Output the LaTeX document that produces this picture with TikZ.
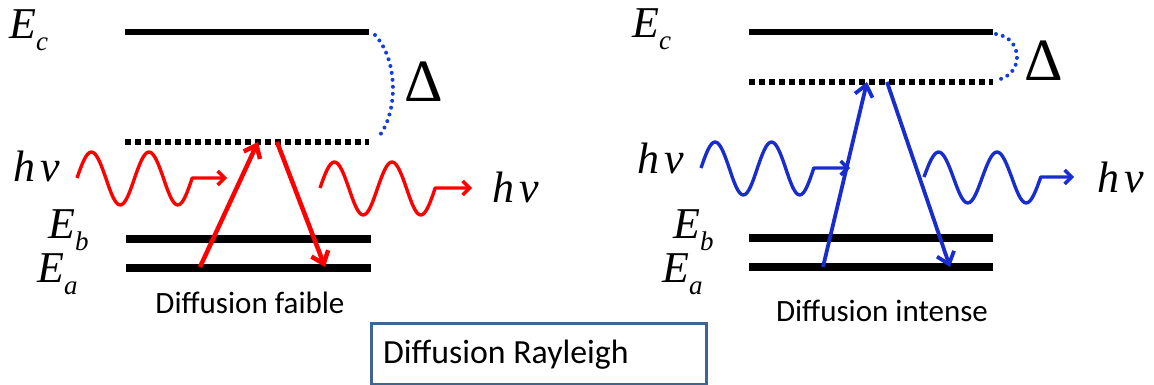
\documentclass[tikz,border=0pt]{standalone}
\usepackage{fontspec}
\setmainfont{Liberation Serif}
\newfontfamily\tms{Liberation Serif}
\newfontfamily\calib{Carlito}
\usetikzlibrary{arrows.meta}
\definecolor{myred}{RGB}{255,0,0}
\definecolor{myblue}{RGB}{25,45,205}
\definecolor{arcblue}{RGB}{20,60,230}
\definecolor{boxblue}{RGB}{65,100,145}
\newcommand\lvlab[2]{#1\raisebox{-12pt}{\fontsize{27}{27}\selectfont #2}}
\begin{document}
\begin{tikzpicture}[x=1pt,y=-1pt,
 lvl/.style={line width=5.5pt},
 lvlb/.style={line width=7.5pt},
 virt/.style={line width=6pt,dash pattern=on 6pt off 4pt},
 gap/.style={line width=4pt,dash pattern=on 0pt off 7pt,line cap=round},
 wave/.style={line width=3.4pt,line join=round,-{Straight Barb[length=7pt,width=14pt]}},
 trans/.style={line width=4.5pt,-{Straight Barb[length=11pt,width=18pt]}},
 lab/.style={inner sep=0pt,anchor=base west,font=\tms\fontsize{44}{44}\selectfont\itshape},
 dlt/.style={inner sep=0pt,anchor=base west,font=\tms\fontsize{60}{60}\selectfont\upshape},
 capt/.style={inner sep=0pt,anchor=base,font=\calib\fontsize{31}{31}\selectfont}]
\useasboundingbox (0,0) rectangle (1154,385);

% ---------- left diagram ----------
\coordinate (Lc1) at (125,32);  \coordinate (Lc2) at (369,32);
\coordinate (Lv1) at (125,142); \coordinate (Lv2) at (369,142);
\coordinate (Lb1) at (126,239); \coordinate (Lb2) at (371,239);
\coordinate (La1) at (126,268); \coordinate (La2) at (371,268);
\draw[lvl] (Lc1) -- (Lc2);
\draw[virt] (Lv1) -- (Lv2);
\draw[lvlb] (Lb1) -- (Lb2);
\draw[lvlb] (La1) -- (La2);
\coordinate (Lg1) at (375,35); \coordinate (Lg2) at (380,135);
\draw[gap,arcblue] (Lg1) .. controls (398,60) and (398,110) .. (Lg2);
\node[dlt] (LD) at (404,102) {Δ};

\node[lab] (LEc) at (9,39) {\lvlab{E}{c}};
\node[lab] (LEb) at (48,238) {\lvlab{E}{b}};
\node[lab] (LEa) at (37,282) {\lvlab{E}{a}};
\node[lab] (Lh1) at (13,182) {h\hspace{5pt}ν};
\node[lab] (Lh2) at (492,202) {h\hspace{5pt}ν};

\coordinate (Lw1e) at (227,178);
\draw[wave,myred] (77,178) sin (91.4,152) cos (105.8,178) sin (120.2,205) cos (134.6,178)
  sin (149,152) cos (163.4,178) sin (177.8,205) cos (192.2,178) -- (Lw1e);
\coordinate (Lw2e) at (472,188);
\draw[wave,myred] (320,188) sin (334.4,162) cos (348.8,188) sin (363.2,215) cos (377.6,188)
  sin (392,162) cos (406.4,188) sin (420.8,215) cos (435.2,188) -- (Lw2e);

\coordinate (Lu1) at (200,267); \coordinate (Lu2) at (258,142);
\coordinate (Ld1) at (277,142); \coordinate (Ld2) at (325,267);
\draw[trans,myred] (Lu1) -- (Lu2);
\draw[trans,myred] (Ld1) -- (Ld2);
\node[capt] (Lcap) at (250,313) {Diffusion faible};

% ---------- right diagram ----------
\coordinate (Rc1) at (749,32);  \coordinate (Rc2) at (993,32);
\coordinate (Rv1) at (749,82);  \coordinate (Rv2) at (993,82);
\coordinate (Rb1) at (749,238); \coordinate (Rb2) at (993,238);
\coordinate (Ra1) at (749,267); \coordinate (Ra2) at (993,267);
\draw[lvl] (Rc1) -- (Rc2);
\draw[virt] (Rv1) -- (Rv2);
\draw[lvlb] (Rb1) -- (Rb2);
\draw[lvlb] (Ra1) -- (Ra2);
\coordinate (Rg1) at (996,34); \coordinate (Rg2) at (996,80);
\draw[gap,arcblue] (Rg1) .. controls (1024,38) and (1024,76) .. (Rg2);
\node[dlt] (RD) at (1024,81) {Δ};

\node[lab] (REc) at (632,38) {\lvlab{E}{c}};
\node[lab] (REb) at (673,238) {\lvlab{E}{b}};
\node[lab] (REa) at (662,282) {\lvlab{E}{a}};
\node[lab] (Rh1) at (637,173) {h\hspace{5pt}ν};
\node[lab] (Rh2) at (1097,192) {h\hspace{5pt}ν};

\coordinate (Rw1e) at (850,168);
\draw[wave,myblue] (701,168) sin (715.1,142) cos (729.2,168) sin (743.3,195) cos (757.4,168)
  sin (771.5,142) cos (785.6,168) sin (799.7,195) cos (813.8,168) -- (Rw1e);
\coordinate (Rw2e) at (1074,177);
\draw[wave,myblue] (924,177) sin (938.6,152) cos (953.2,177) sin (967.8,203) cos (982.4,177)
  sin (997,152) cos (1011.6,177) sin (1026.2,203) cos (1040.8,177) -- (Rw2e);

\coordinate (Ru1) at (823,267); \coordinate (Ru2) at (867,82);
\coordinate (Rd1) at (887,82);  \coordinate (Rd2) at (950,267);
\draw[trans,myblue,line width=3.8pt] (Ru1) -- (Ru2);
\draw[trans,myblue,line width=3.8pt] (Rd1) -- (Rd2);
\node[capt] (Rcap) at (882,321) {Diffusion intense};

% ---------- title box ----------
\node[draw=boxblue,line width=3pt,minimum width=335pt,minimum height=61pt,
  anchor=north west,inner sep=0pt] (box) at (370,322) {};
\node[inner sep=0pt,anchor=base west,font=\calib\fontsize{33.8}{33.8}\selectfont]
  (title) at (383,363) {Diffusion Rayleigh};
\end{tikzpicture}
\end{document}
